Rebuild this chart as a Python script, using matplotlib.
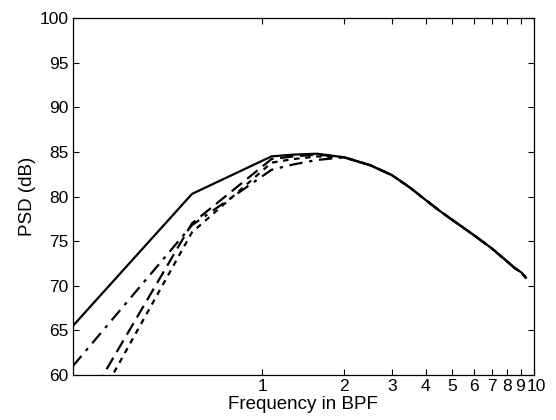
import numpy as np
import matplotlib
matplotlib.use("Agg")
import matplotlib.pyplot as plt
import matplotlib.transforms as mtransforms
from matplotlib.ticker import FixedLocator, NullLocator, FixedFormatter

plt.rcParams['font.family'] = ['Liberation Sans', 'DejaVu Sans']

# frequency (in BPF) where the four curves differ
freq_head = [0.2, 0.55, 1.08, 1.3, 1.59]
psd_solid = [65.5, 80.3, 84.5, 84.7, 84.8]
psd_dash = [54.2, 77.0, 84.2, 84.5, 84.7]
psd_dot = [52.0, 76.0, 83.8, 84.2, 84.5]
psd_dashdot = [61.0, 76.8, 83.0, 83.6, 84.1]

# shared part of the curves above ~2 BPF
freq_tail = [2.0, 2.5, 3.0, 3.5, 4.0, 4.5, 5.0, 6.0, 7.0, 8.0, 8.5, 9.0, 9.35]
psd_tail = [84.4, 83.5, 82.4, 81.0, 79.6, 78.4, 77.4, 75.7, 74.2, 72.7, 72.0, 71.5, 70.9]

xtick_vals = [1, 2, 3, 4, 5, 6, 7, 8, 9, 10]
xtick_labels = ['1', '2', '3', '4', '5', '6', '7', '8', '9', '10']

fig = plt.figure(figsize=(5.56, 4.2), dpi=100)
ax = fig.add_axes([0.131, 0.107, 0.829, 0.850])

f = freq_head + freq_tail
styles = [
    (psd_solid, '-'),
    (psd_dash, (0, (6, 3))),
    (psd_dot, (0, (2.5, 2.5))),
    (psd_dashdot, (0, (6, 3, 1.5, 3))),
]
for vals, ls in styles:
    ax.plot(f, vals + psd_tail, color='black', lw=1.6, linestyle=ls)

ax.set_xscale('log')
ax.set_xlim(0.2, 10)
ax.set_ylim(60, 100)
ax.xaxis.set_major_locator(FixedLocator(xtick_vals))
ax.xaxis.set_major_formatter(FixedFormatter(xtick_labels))
ax.xaxis.set_minor_locator(NullLocator())
ax.set_yticks(np.arange(60, 101, 5))

ax.tick_params(direction='in', top=True, right=True, length=4, width=0.8,
               labelsize=12.5, pad=3)
for s in ax.spines.values():
    s.set_linewidth(0.9)

# the last two labels sit very close; spread them a little
labels = ax.get_xticklabels()
for lab, dx in [(labels[-2], -1.5), (labels[-1], 2.5)]:
    lab.set_transform(lab.get_transform() +
                      mtransforms.ScaledTranslation(dx / 100, 0, fig.dpi_scale_trans))

ax.set_xlabel('Frequency in BPF', fontsize=13.5, labelpad=1)
ax.set_ylabel('PSD (dB)', fontsize=13.5, labelpad=3)

fig.savefig('out.png', dpi=100)
